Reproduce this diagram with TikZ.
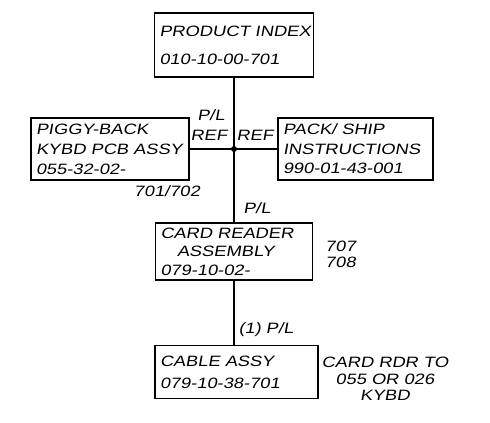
\documentclass[tikz,border=0pt]{standalone}
\usepackage{fontspec}
\setmainfont{Liberation Sans}[FakeSlant=0.18,FakeStretch=1.22]
\begin{document}
\begin{tikzpicture}[x=1pt,y=-1pt,
  box/.style={draw,line width=1.3pt,inner xsep=5pt,inner ysep=2pt,align=left,anchor=center},
  lbl/.style={font=\fontsize{15}{17}\selectfont,inner sep=0pt},
  wire/.style={line width=1.3pt}]
\useasboundingbox (0,0) rectangle (490,423);
\node[box,text width=149pt,minimum height=64pt,font=\fontsize{15}{28}\selectfont] (prod) at (234,45)
  {\mbox{PRODUCT INDEX}\\010-10-00-701};
\node[box,text width=148pt,minimum height=62pt,font=\fontsize{15}{20}\selectfont] (piggy) at (110,149)
  {PIGGY-BACK\\\mbox{KYBD PCB ASSY}\\055-32-02-};
\node[box,text width=145pt,minimum height=62pt,font=\fontsize{15}{19.5}\selectfont] (pack) at (355.5,149)
  {PACK/ SHIP\\INSTRUCTIONS\\990-01-43-001};
\node[box,text width=147pt,minimum height=57pt,font=\fontsize{15}{18.5}\selectfont] (card) at (234,251.5)
  {CARD READER\\\hspace*{1.1em}ASSEMBLY\\079-10-02-};
\node[box,text width=153pt,minimum height=53pt,font=\fontsize{15}{22}\selectfont] (cable) at (236.5,372)
  {CABLE ASSY\\079-10-38-701};
\coordinate (j) at (prod.south |- piggy.east);
\draw[wire] (prod.south) -- (card.north);
\draw[wire] (piggy.east) -- (j) -- (pack.west);
\fill (j) circle (3pt);
\draw[wire] (card.south) -- (card.south |- cable.north);
\node[lbl] (pl1) at (211,115) {P/L};
\node[lbl] (ref1) at (209,135) {REF};
\node[lbl] (ref2) at (255,135) {REF};
\node[lbl] (sfx) at (167,191) {701/702};
\node[lbl] (pl2) at (257,208) {P/L};
\node[lbl,anchor=west] (n707) at (325,246) {707};
\node[lbl,anchor=west] (n708) at (325,262) {708};
\node[lbl] (pl3) at (266,330) {(1) P/L};
\node[lbl,align=center,font=\fontsize{15}{16.5}\selectfont] (note) at (385,379)
  {CARD RDR TO\\055 OR 026\\KYBD};
\end{tikzpicture}
\end{document}
